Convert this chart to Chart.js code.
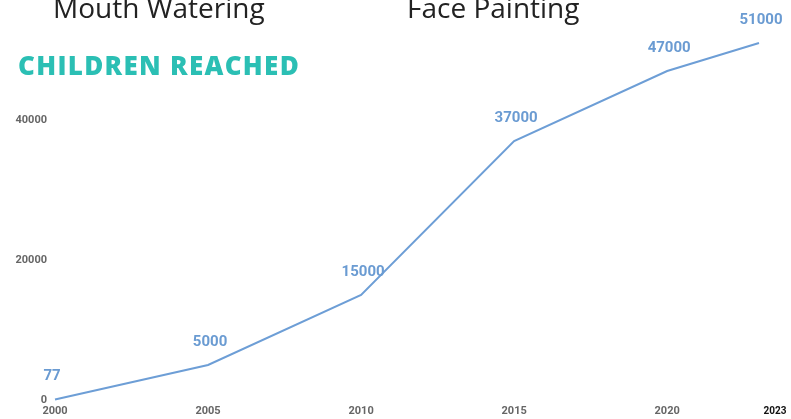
<!DOCTYPE html>
<html>
<head>
<meta charset="utf-8">
<script src="https://cdn.jsdelivr.net/npm/chart.js@4"></script>
<style>
    html, body { margin: 0; padding: 0; background: #fff; }
    #wrap { position: relative; width: 791px; height: 419px; overflow: hidden; }
    #chart { position: absolute; left: 0; top: 0; }
    .caption { position: absolute; font-family: 'Open Sans', sans-serif; font-size: 28px; color: #222; white-space: nowrap; line-height: 1; }
    .heading { position: absolute; font-family: 'Open Sans', sans-serif; font-weight: 800; font-size: 26px; color: #2bbfb4; white-space: nowrap; line-height: 1; letter-spacing: 1.3px; }
</style>
</head>
<body>
<div id="wrap">
    <canvas id="chart" width="791" height="419"></canvas>
    <div class="caption" style="left:53px; top:-7px;">Mouth Watering</div>
    <div class="caption" style="left:407px; top:-7px;">Face Painting</div>
    <div class="heading" style="left:18px; top:52px;">CHILDREN REACHED</div>
</div>
<script>
var years = [2000, 2005, 2010, 2015, 2020, 2023];
var children = [77, 5000, 15000, 37000, 47000, 51000];
var xTickYears = [2000, 2005, 2010, 2015, 2020];
var yTickValues = [0, 20000, 40000];
var lastYearLabel = '2023';

var lineColor = '#6d9ed6';

// value labels above each point, plus the bold end year under the axis
var pointLabels = {
    id: 'pointLabels',
    afterDatasetsDraw: function(chart) {
        var ctx = chart.ctx;
        var meta = chart.getDatasetMeta(0);
        ctx.save();
        ctx.font = 'bold 15px Roboto, sans-serif';
        ctx.fillStyle = '#6a9bd2';
        ctx.textAlign = 'center';
        ctx.textBaseline = 'middle';
        meta.data.forEach(function(pt, i) {
            var dx = i === 0 ? -3 : 2;
            ctx.fillText(String(children[i]), pt.x + dx, pt.y - 23);
        });

        var x = chart.scales.x;
        ctx.font = 'bold 10px Roboto, sans-serif';
        ctx.fillStyle = '#111';
        ctx.fillText(lastYearLabel, x.getPixelForValue(2023) + 16, x.top + 11);
        ctx.restore();
    }
};

new Chart(document.getElementById('chart'), {
    type: 'line',
    data: {
        datasets: [{
            data: years.map(function(y, i) { return {x: y, y: children[i]}; }),
            borderColor: lineColor,
            borderWidth: 2,
            pointRadius: 0,
            tension: 0,
            clip: false
        }]
    },
    options: {
        responsive: false,
        animation: false,
        devicePixelRatio: 1,
        layout: {padding: {top: 15, right: 32, left: 0, bottom: 0}},
        plugins: {legend: {display: false}, tooltip: {enabled: false}},
        scales: {
            x: {
                type: 'linear',
                min: 2000,
                max: 2023,
                border: {display: false},
                grid: {display: false, drawTicks: false},
                afterBuildTicks: function(scale) {
                    scale.ticks = xTickYears.map(function(v) { return {value: v}; });
                },
                afterFit: function(scale) { scale.height = 19; },
                ticks: {
                    padding: 5,
                    maxRotation: 0,
                    color: '#666',
                    font: {family: 'Roboto', size: 11, weight: 'bold'},
                    callback: function(v) { return String(v); }
                }
            },
            y: {
                min: 0,
                max: 55000,
                border: {display: false},
                grid: {display: false, drawTicks: false},
                afterBuildTicks: function(scale) {
                    scale.ticks = yTickValues.map(function(v) { return {value: v}; });
                },
                afterFit: function(scale) { scale.width = 55; },
                ticks: {
                    padding: 8,
                    color: '#666',
                    font: {family: 'Roboto', size: 11, weight: 'bold'},
                    callback: function(v) { return String(v); }
                }
            }
        }
    },
    plugins: [pointLabels]
});
</script>
</body>
</html>
